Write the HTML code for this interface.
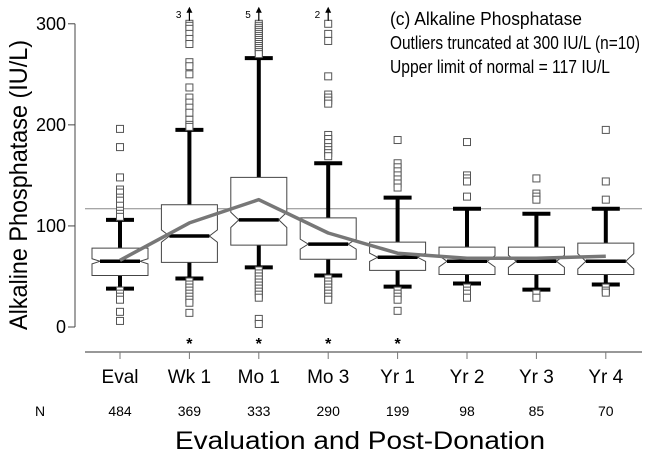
<!DOCTYPE html>
<html><head><meta charset="utf-8"><style>
body{margin:0;background:#fff}
svg{display:block;font-family:"Liberation Sans",Arial,sans-serif}
</style></head><body>
<svg id="chart" width="651" height="455" viewBox="0 0 651 455"></svg>
<script>
const categories=["Eval","Wk 1","Mo 1","Mo 3","Yr 1","Yr 2","Yr 3","Yr 4"];
const counts=[484,369,333,290,199,98,85,70];
const medians=[65,90,106,82,69,65,65,65];
const q1s=[51,64,81,67,56,52,52,52];
const q3s=[78,121,148,108,84,79,79,83];
const lowWhiskers=[38,48,59,51,40,43,37,42];
const highWhiskers=[106,195,266,162,128,117,112,117];
const means=[66,103,126,93,73,68,68,70];
const outliersHigh=[
 [196,178,148,136,133,128,125,120,115,112,109],
 [300,298,295,290,285,280,262,258,250,237,227,222,217,212,205,200,198],
 [300,298,296,294,292,290,288,286,284,282,280,278,276,274,272,270],
 [300,290,283,248,230,227,224,221,190,186,182,178,175,172,169],
 [185,162,158,154,150,146,142,138],
 [183,150,147,144,129],
 [147,132,129,126],
 [195,144,126]];
const outliersLow=[
 [36,33,30,27,15,6],
 [45,42,39,36,33,30,27,24,14],
 [56,53,50,47,44,41,38,35,32,29,8,3],
 [48,45,42,39,36,33,30,27],
 [36,33,30,27,16],
 [39,36,33,29],
 [33,29],
 [39,36,34]];
const truncatedCounts=[null,3,5,2,null,null,null,null];
const sigFlags=[false,true,true,true,true,false,false,false];
const yTicks=[0,100,200,300];
const refLimit=117;

const svg=document.getElementById('chart');
const NS='http://www.w3.org/2000/svg';
const y=v=>327-v*1.0107;
const x=i=>120+i*69.4;
function mk(tag,attrs,parent){const e=document.createElementNS(NS,tag);for(const k in attrs)e.setAttribute(k,attrs[k]);(parent||svg).appendChild(e);return e;}

let e=mk('line',{x1:75,y1:y(0),x2:75,y2:y(300),stroke:'#444','stroke-width':1});


yTicks.forEach(t=>{
 let tk=mk('line',{x1:68,x2:75,y1:y(t),y2:y(t),stroke:'#444'});
 
 
 let lb=mk('text',{x:66,y:y(t)+6,'text-anchor':'end','font-size':18});
 lb.textContent=t;
 
 
});
e=mk('line',{x1:85,y1:352,x2:642,y2:352,stroke:'#777','stroke-width':1.5});


e=mk('line',{x1:85,y1:y(refLimit),x2:642,y2:y(refLimit),stroke:'#888','stroke-width':1});



categories.forEach((c,i)=>{
 const cx=x(i),hw=28,nw=20;
 const g=mk('g',{});
 
 
 let notch=1.58*(q3s[i]-q1s[i])/Math.sqrt(counts[i])*1.3;
 const yq1=y(q1s[i]),yq3=y(q3s[i]),ym=y(medians[i]);
 const nT=ym-notch*1.01,nB=ym+notch*1.01;
 mk('line',{x1:cx,x2:cx,y1:y(highWhiskers[i]),y2:yq3,stroke:'#000','stroke-width':4},g);
 mk('line',{x1:cx,x2:cx,y1:yq1,y2:y(lowWhiskers[i]),stroke:'#000','stroke-width':4},g);
 mk('line',{x1:cx-14,x2:cx+14,y1:y(highWhiskers[i]),y2:y(highWhiskers[i]),stroke:'#000','stroke-width':4},g);
 mk('line',{x1:cx-14,x2:cx+14,y1:y(lowWhiskers[i]),y2:y(lowWhiskers[i]),stroke:'#000','stroke-width':4},g);
 mk('polygon',{points:`${cx-hw},${yq3} ${cx+hw},${yq3} ${cx+hw},${nT} ${cx+nw},${ym} ${cx+hw},${nB} ${cx+hw},${yq1} ${cx-hw},${yq1} ${cx-hw},${nB} ${cx-nw},${ym} ${cx-hw},${nT}`,fill:'#fff',stroke:'#444','stroke-width':1},g);
 mk('line',{x1:cx-nw,x2:cx+nw,y1:ym,y2:ym,stroke:'#000','stroke-width':3.5},g);
 outliersHigh[i].concat(outliersLow[i]).forEach(v=>{
  const r=mk('rect',{x:cx-3.5,y:y(v)-3.5,width:7,height:7,fill:'#fff',stroke:'#555','stroke-width':1},g);
  
  
 });
 if(truncatedCounts[i]){
  mk('line',{x1:cx,x2:cx,y1:y(300)-3,y2:y(300)-14,stroke:'#000','stroke-width':1.2},g);
  mk('polygon',{points:`${cx-3},${y(300)-11} ${cx+3},${y(300)-11} ${cx},${y(300)-17}`,fill:'#000'},g);
  const t=mk('text',{x:cx-8,y:y(300)-6,'text-anchor':'end','font-size':10},g);
  t.textContent=truncatedCounts[i];
  
  
 }
 if(sigFlags[i]){
  const s=mk('text',{x:cx,y:349,'text-anchor':'middle','font-size':16,'font-weight':'bold'});
  s.textContent='*';
  
  
 }
 const tk=mk('line',{x1:cx,x2:cx,y1:352,y2:359,stroke:'#777'});
 
 
 const lb=mk('text',{x:cx,y:383,'text-anchor':'middle','font-size':19});
 lb.textContent=c;
 
 
 const n=mk('text',{x:cx,y:416,'text-anchor':'middle','font-size':14});
 n.textContent=counts[i];
 
 
});
const pts=means.map((m,i)=>x(i)+','+y(m)).join(' ');
e=mk('polyline',{points:pts,fill:'none',stroke:'#777','stroke-width':3.5,'stroke-linejoin':'round'});



const texts=[
 {t:'N',x:40,y:416,s:14,a:'middle',n:'n-label'},
 {t:'Evaluation and Post-Donation',x:175,y:449,s:25,a:'start',n:'x-axis-title',L:370},
 {t:'(c) Alkaline Phosphatase',x:390,y:25,s:18,a:'start',n:'panel-title',L:192},
 {t:'Outliers truncated at 300 IU/L (n=10)',x:390,y:49,s:18,a:'start',n:'truncation-note',L:250},
 {t:'Upper limit of normal = 117 IU/L',x:390,y:73,s:18,a:'start',n:'upper-limit-note',L:220}];
texts.forEach(o=>{
 const t=mk('text',{x:o.x,y:o.y,'text-anchor':o.a,'font-size':o.s});
 if(o.L){t.setAttribute('textLength',o.L);t.setAttribute('lengthAdjust','spacingAndGlyphs');}
 t.textContent=o.t;
 
 
});
e=mk('text',{x:0,y:0,'text-anchor':'middle','font-size':25,textLength:290,lengthAdjust:'spacingAndGlyphs',transform:'translate(27,185) rotate(-90)'});
e.textContent='Alkaline Phosphatase (IU/L)';


</script>
</body></html>
